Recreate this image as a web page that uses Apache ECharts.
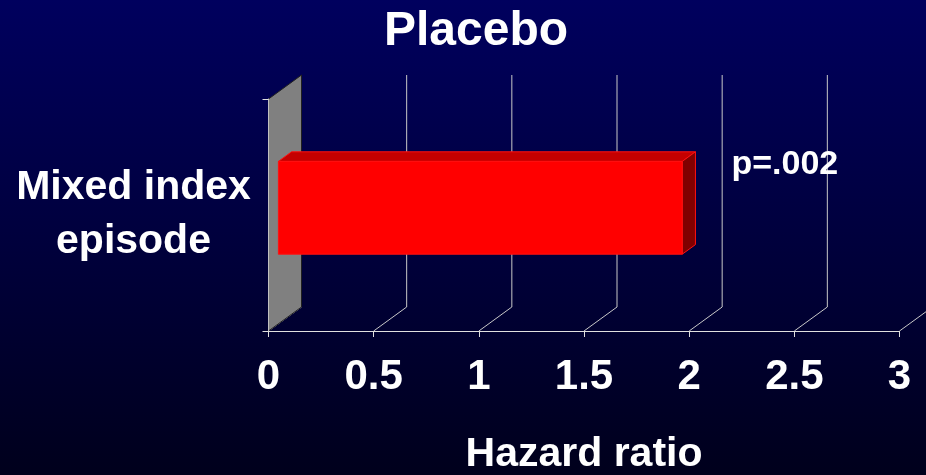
<!DOCTYPE html>
<html>
<head>
<meta charset="utf-8">
<script src="https://cdn.jsdelivr.net/npm/echarts@6/dist/echarts.min.js"></script>
<style>
html,body{margin:0;padding:0;background:#000040;}
#chart{width:926px;height:475px;}
</style>
</head>
<body>
<div id="chart"></div>
<script>
// ---- data ----
var titleText = 'Placebo';
var categories = ['Mixed index\nepisode'];
var hazardRatios = [1.92];
var pLabels = ['p=.002'];
var xTicks = [0, 0.5, 1, 1.5, 2, 2.5, 3];
var xAxisName = 'Hazard ratio';

// ---- styling constants ----
var DX = 33, DY = -24;          // 3D depth offset
var FONT = 'Liberation Sans, Arial, sans-serif';
var GRID_COLOR = '#c8c8c8';

var chart = echarts.init(document.getElementById('chart'), null, {renderer: 'canvas'});

function renderGridLines(params, api) {
  var cs = params.coordSys;
  var p = api.coord([api.value(0), 0]);
  var x = p[0];
  var yFloor = cs.y + cs.height;
  var yTop = cs.y;
  var children = [{
    type: 'line',
    shape: {x1: x, y1: yFloor, x2: x + DX, y2: yFloor + DY},
    style: {stroke: GRID_COLOR, lineWidth: 1}
  }];
  if (api.value(0) !== 0) {
    children.push({
      type: 'line',
      shape: {x1: x + DX, y1: yFloor + DY, x2: x + DX, y2: yTop + DY},
      style: {stroke: GRID_COLOR, lineWidth: 1}
    });
  }
  return {type: 'group', children: children};
}

function renderWall(params, api) {
  var cs = params.coordSys;
  var x = api.coord([api.value(0), 0])[0];
  var yFloor = cs.y + cs.height;
  var yTop = cs.y;
  return {
    type: 'polygon',
    shape: {points: [[x, yTop], [x + DX, yTop + DY], [x + DX, yFloor + DY], [x, yFloor]]},
    style: {fill: '#808080', stroke: '#202020', lineWidth: 1}
  };
}

function renderBar(params, api) {
  var v = api.value(0);
  var cat = api.value(1);
  var c0 = api.coord([0, cat]);
  var c1 = api.coord([v, cat]);
  var band = api.size([0, 1])[1];
  var h = band * 0.4;
  var d1 = 0.3, d2 = 0.7;
  var fx0 = c0[0] + DX * d1, fx1 = c1[0] + DX * d1;
  var fy0 = c0[1] - h / 2 + DY * d1, fy1 = c0[1] + h / 2 + DY * d1;
  var bdx = DX * (d2 - d1), bdy = DY * (d2 - d1);
  var edge = '#ff1010';
  return {
    type: 'group',
    children: [
      {type: 'polygon', shape: {points: [[fx0, fy0], [fx1, fy0], [fx1 + bdx, fy0 + bdy], [fx0 + bdx, fy0 + bdy]]},
        style: {fill: '#c40000', stroke: edge, lineWidth: 1}},
      {type: 'polygon', shape: {points: [[fx1, fy0], [fx1 + bdx, fy0 + bdy], [fx1 + bdx, fy1 + bdy], [fx1, fy1]]},
        style: {fill: '#800000', stroke: edge, lineWidth: 1}},
      {type: 'rect', shape: {x: fx0, y: fy0, width: fx1 - fx0, height: fy1 - fy0},
        style: {fill: '#ff0000', stroke: edge, lineWidth: 1}},
      {type: 'text', x: fx1 + bdx + 36, y: fy0 + 3,
        style: {text: pLabels[params.dataIndex], fill: '#ffffff', font: 'bold 34px ' + FONT,
          textAlign: 'left', textVerticalAlign: 'middle'}}
    ]
  };
}

var option = {
  animation: false,
  backgroundColor: {
    type: 'linear', x: 0, y: 0, x2: 0, y2: 1,
    colorStops: [{offset: 0, color: '#00005e'}, {offset: 1, color: '#00001c'}]
  },
  title: {
    text: titleText,
    left: 476,
    textAlign: 'center',
    top: 8,
    padding: 0,
    textStyle: {color: '#ffffff', fontFamily: FONT, fontWeight: 'bold', fontSize: 48}
  },
  grid: {left: 268.5, top: 99, width: 631, height: 232, containLabel: false, outerBoundsMode: 'none'},
  xAxis: {
    type: 'value',
    min: 0, max: 3, interval: 0.5,
    z: 5,
    name: xAxisName,
    nameLocation: 'middle',
    nameGap: 103,
    nameTextStyle: {color: '#ffffff', fontFamily: FONT, fontWeight: 'bold', fontSize: 41},
    axisLine: {show: true, lineStyle: {color: '#e0e0e0', width: 1}},
    axisTick: {show: true, length: 6, lineStyle: {color: '#e0e0e0'}},
    axisLabel: {color: '#ffffff', fontFamily: FONT, fontWeight: 'bold', fontSize: 42, margin: 25},
    splitLine: {show: false}
  },
  yAxis: {
    type: 'category',
    data: categories,
    z: 5,
    axisLine: {show: true, lineStyle: {color: '#c0c0c0', width: 1}},
    axisTick: {show: true, length: 6, lineStyle: {color: '#e0e0e0'}},
    axisLabel: {color: '#ffffff', fontFamily: FONT, fontWeight: 'bold', fontSize: 41,
      align: 'center', margin: 135, lineHeight: 54},
    splitLine: {show: false}
  },
  series: [
    {
      type: 'custom', name: 'grid', z: 1, silent: true,
      renderItem: renderGridLines,
      encode: {x: 0},
      data: xTicks.map(function (t) { return [t]; })
    },
    {
      type: 'custom', name: 'wall', z: 2, silent: true,
      renderItem: renderWall,
      encode: {x: 0},
      data: [[xTicks[0]]]
    },
    {
      type: 'custom', name: 'bar', z: 3,
      renderItem: renderBar,
      encode: {x: 0, y: 1},
      data: hazardRatios.map(function (v, i) { return [v, i]; })
    }
  ]
};
chart.setOption(option);
</script>
</body>
</html>
